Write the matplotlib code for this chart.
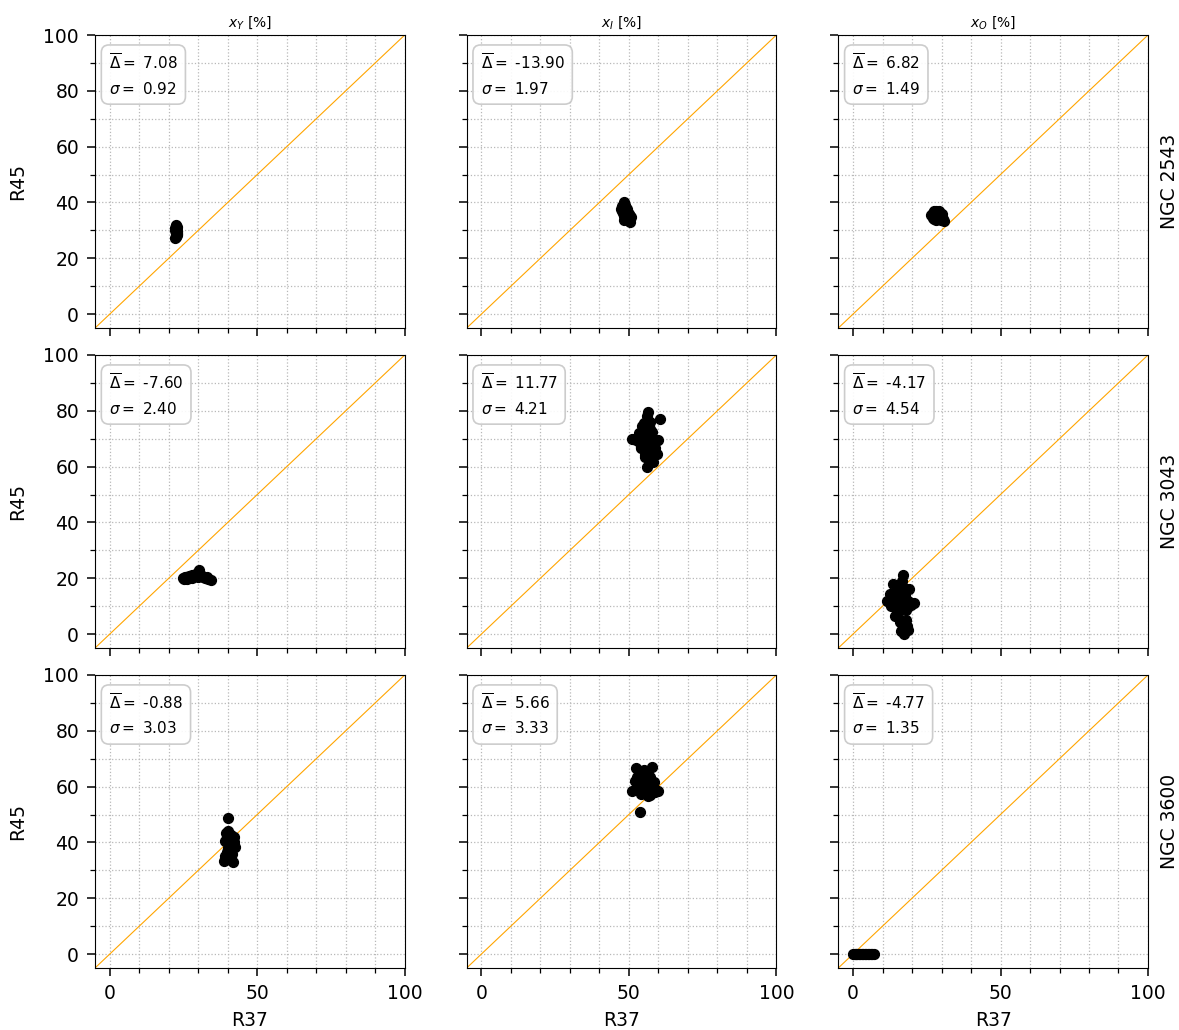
import matplotlib

matplotlib.use("Agg")
import matplotlib.pyplot as plt
from matplotlib.ticker import MultipleLocator

GALAXIES = ["NGC 2543", "NGC 3043", "NGC 3600"]
COMPONENTS = ["$x_Y$ [%]", "$x_I$ [%]", "$x_O$ [%]"]

# R37 (x) and R45 (y) population fractions, one list per galaxy/component
x00 = [22.1, 22.4, 22.8, 22.3, 22.6, 22.9, 22.2, 22.5, 22.7, 22.4, 22.6, 22.3, 22.8, 22.5, 22.2, 22.7, 22.4, 22.6, 22.9, 22.3]
y00 = [27.2, 28.0, 28.6, 29.1, 29.5, 29.9, 30.3, 30.7, 31.1, 31.5, 31.9, 29.3, 28.4, 30.0, 30.8, 29.6, 28.9, 30.4, 29.0, 27.8]
x01 = [47.3, 47.8, 48.2, 48.6, 49.0, 49.4, 49.8, 50.2, 50.6, 48.0, 48.5, 49.1, 49.6, 50.1, 50.5, 47.6, 48.9, 49.3, 49.9, 50.3, 48.3, 49.5]
y01 = [37.5, 38.8, 40.0, 39.2, 38.0, 37.1, 36.4, 35.8, 34.9, 36.3, 35.2, 34.6, 33.9, 33.4, 33.0, 37.0, 35.7, 36.8, 34.2, 35.1, 33.6, 37.8]
x02 = [26.5, 27.0, 27.5, 28.0, 28.5, 29.0, 29.5, 30.0, 30.5, 30.8, 27.2, 27.8, 28.3, 28.8, 29.3, 29.8, 30.3, 28.1, 29.0, 27.6]
y02 = [35.5, 36.4, 36.9, 37.0, 36.6, 36.2, 35.6, 34.8, 34.0, 33.5, 34.6, 35.2, 34.3, 35.8, 34.5, 33.7, 35.9, 33.8, 36.9, 33.9]

x10 = [24.8, 25.5, 26.2, 27.0, 27.8, 28.5, 29.2, 30.0, 30.7, 31.5, 32.3, 33.2, 34.2, 25.9, 26.8, 28.0, 29.5, 30.2, 31.0, 32.8, 29.8, 27.4, 25.2, 26.0]
y10 = [20.2, 20.5, 19.9, 20.6, 20.1, 20.8, 21.0, 20.3, 20.9, 20.4, 20.0, 19.7, 19.3, 20.0, 20.9, 21.2, 22.0, 22.9, 21.3, 20.6, 21.5, 20.3, 19.8, 20.4]
x11 = [51.0, 52.5, 53.5, 54.0, 54.5, 55.0, 55.5, 56.0, 56.5, 57.0, 57.5, 58.0, 58.5, 59.0, 59.5, 60.0, 60.5, 55.2, 56.2, 57.2,
       54.8, 56.8, 57.8, 55.8, 56.5, 58.2, 53.8, 57.0, 56.0, 55.5, 54.2, 58.8]
y11 = [70.0, 69.5, 72.0, 66.5, 74.5, 68.0, 63.5, 78.0, 70.5, 66.0, 62.5, 72.5, 67.0, 69.0, 64.5, 69.5, 77.0, 75.5, 60.0, 73.5,
       71.0, 65.0, 70.0, 67.5, 79.5, 61.5, 68.5, 76.0, 71.5, 64.0, 67.0, 66.5]
x12 = [11.5, 12.5, 13.0, 13.5, 14.0, 14.5, 15.0, 15.5, 16.0, 16.5, 17.0, 17.5, 18.0, 18.5, 19.0, 19.5, 20.5, 14.2, 15.8, 16.8,
       17.8, 15.2, 16.2, 14.8, 17.2, 18.2, 16.6, 17.4, 15.6, 18.6]
y12 = [12.0, 14.5, 10.0, 18.0, 12.5, 15.5, 9.0, 13.0, 17.5, 11.0, 21.0, 14.0, 8.5, 12.0, 16.0, 10.5, 11.0, 6.5, 4.5, 2.5,
       5.0, 7.5, 1.0, 11.5, 0.0, 3.0, 19.0, 16.5, 14.0, 1.5]

x20 = [38.8, 39.2, 39.6, 40.0, 40.4, 40.8, 41.2, 41.6, 42.0, 42.4, 39.4, 40.2, 41.0, 41.8, 39.0, 40.6, 41.4, 40.0, 42.2, 39.8, 40.8, 40.0]
y20 = [33.5, 35.0, 36.5, 38.0, 39.5, 41.0, 42.5, 41.5, 40.0, 38.5, 43.5, 44.0, 37.0, 33.0, 40.5, 34.0, 36.0, 48.8, 42.0, 42.0, 39.0, 37.5]
x21 = [51.0, 52.0, 52.5, 53.0, 53.5, 54.0, 54.5, 55.0, 55.5, 56.0, 56.5, 57.0, 57.5, 58.0, 58.5, 59.0, 59.8, 53.6, 55.2, 56.2,
       54.6, 57.2, 52.8, 58.2, 55.8, 56.8]
y21 = [58.5, 62.0, 66.5, 60.0, 64.0, 57.5, 62.5, 65.5, 59.0, 61.0, 56.5, 63.5, 60.0, 67.0, 61.5, 58.0, 58.5, 50.8, 66.0, 63.0,
       60.5, 57.0, 63.5, 60.0, 58.0, 61.5]
x22 = [0.0, 0.5, 1.0, 1.5, 2.0, 2.5, 3.0, 3.5, 4.0, 4.5, 5.0, 5.5, 6.0, 6.5, 7.0]
y22 = [0.0] * 15

# mean and scatter of R45 - R37
delta_mean = [[7.08, -13.90, 6.82], [-7.60, 11.77, -4.17], [-0.88, 5.66, -4.77]]
delta_std = [[0.92, 1.97, 1.49], [2.40, 4.21, 4.54], [3.03, 3.33, 1.35]]

xs = [[x00, x01, x02], [x10, x11, x12], [x20, x21, x22]]
ys = [[y00, y01, y02], [y10, y11, y12], [y20, y21, y22]]

fig, axes = plt.subplots(3, 3, figsize=(11.79, 10.30), dpi=100, sharex=True, sharey=True)
fig.subplots_adjust(left=0.0806, right=0.9737, top=0.966, bottom=0.0602, wspace=0.2, hspace=0.092)

for i in range(3):
    for j in range(3):
        ax = axes[i, j]
        ax.plot([-5, 100], [-5, 100], color="orange", lw=0.8, zorder=1)
        ax.scatter(xs[i][j], ys[i][j], s=50, color="black", zorder=3)
        ax.set_xlim(-5, 100)
        ax.set_ylim(-5, 100)
        ax.xaxis.set_major_locator(MultipleLocator(50))
        ax.xaxis.set_minor_locator(MultipleLocator(10))
        ax.yaxis.set_major_locator(MultipleLocator(20))
        ax.yaxis.set_minor_locator(MultipleLocator(10))
        ax.grid(which="both", linestyle=":", color="0.72", lw=0.9)
        ax.set_axisbelow(True)
        ax.tick_params(which="major", labelsize=13.5, length=6, width=1.1, pad=5.5)
        ax.tick_params(which="minor", length=3.5, width=0.9)
        ax.text(0.045, 0.94,
                "$\\overline{\\Delta} = $ %.2f\n$\\sigma = $ %.2f" % (delta_mean[i][j], delta_std[i][j]),
                transform=ax.transAxes, ha="left", va="top", fontsize=11, linespacing=1.6,
                bbox=dict(boxstyle="round,pad=0.5", facecolor="white", edgecolor="0.78", lw=1.2, alpha=0.9), zorder=5)
        if i == 0:
            ax.set_title(COMPONENTS[j], fontsize=10)
        if i == 2:
            ax.set_xlabel("R37", fontsize=13.5, labelpad=6)
        if j == 0:
            ax.set_ylabel("R45", fontsize=13.5, labelpad=12)
        if j == 2:
            ax.text(1.04, 0.5, GALAXIES[i], transform=ax.transAxes, rotation=90,
                    ha="left", va="center", fontsize=13.5)

fig.savefig("out.png", dpi=100)
